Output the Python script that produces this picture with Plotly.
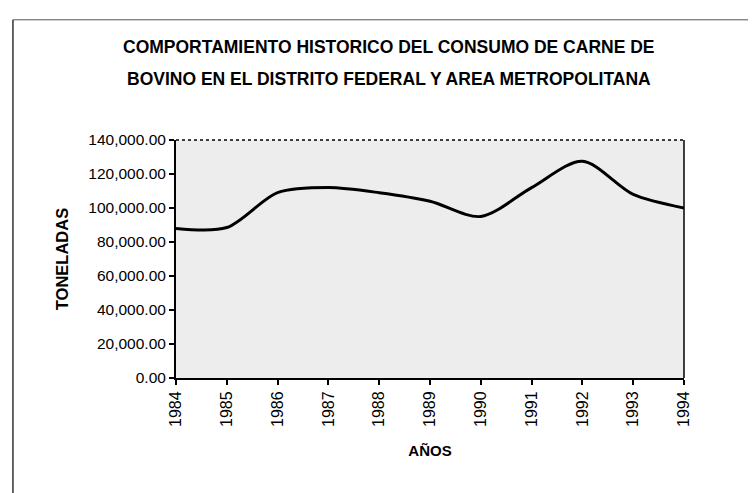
import plotly.graph_objects as go

years = [1984, 1985, 1986, 1987, 1988, 1989, 1990, 1991, 1992, 1993, 1994]
toneladas = [88000, 88500, 109000, 112000, 109000, 104000, 95000, 112000, 127500, 108000, 100000]
y_ticks = [0, 20000, 40000, 60000, 80000, 100000, 120000, 140000]

title_1 = "COMPORTAMIENTO HISTORICO DEL CONSUMO DE CARNE DE"
title_2 = "BOVINO EN EL DISTRITO FEDERAL Y AREA METROPOLITANA"
x_title = "AÑOS"
y_title = "TONELADAS"

FONT = "Liberation Sans, Arial, sans-serif"

fig = go.Figure()
fig.add_trace(go.Scatter(
    x=years, y=toneladas, mode="lines",
    line=dict(color="black", width=3, shape="spline", smoothing=0.85),
    hoverinfo="x+y", showlegend=False,
))

fig.update_layout(
    width=756, height=493,
    margin=dict(l=168, r=80, t=132, b=123),
    paper_bgcolor="white",
    plot_bgcolor="#ededed",
    font=dict(family=FONT, color="black", size=15),
    showlegend=False,
    annotations=[
        dict(text="<b>%s</b>" % title_1, xref="paper", yref="paper", x=0.42, y=1.39,
             xanchor="center", yanchor="middle", showarrow=False, font=dict(size=17.5)),
        dict(text="<b>%s</b>" % title_2, xref="paper", yref="paper", x=0.42, y=1.255,
             xanchor="center", yanchor="middle", showarrow=False, font=dict(size=17.5)),
    ],
    shapes=[
        dict(type="line", xref="paper", yref="paper", x0=0, x1=1, y0=1, y1=1,
             line=dict(color="black", width=1.5, dash="dot")),
        dict(type="line", xref="paper", yref="paper", x0=1, x1=1, y0=0, y1=1,
             line=dict(color="black", width=1.5)),
        dict(type="line", xref="paper", yref="paper", x0=-0.321, x1=-0.321, y0=-0.6, y1=1.505,
             line=dict(color="#333333", width=1.5)),
        dict(type="line", xref="paper", yref="paper", x0=-0.321, x1=1.16, y0=1.505, y1=1.505,
             line=dict(color="#555555", width=1)),
    ],
)

fig.update_xaxes(
    range=[1984, 1994], tickmode="array", tickvals=years, ticktext=[str(y) for y in years],
    tickangle=-90, ticks="outside", ticklen=5, tickwidth=1.5, tickcolor="black",
    showline=True, linecolor="black", linewidth=2, showgrid=False, zeroline=False,
    tickfont=dict(size=16),
    title=dict(text="<b>%s</b>" % x_title, font=dict(size=15), standoff=20),
)
fig.update_yaxes(
    range=[0, 140000], tickmode="array", tickvals=y_ticks, tickformat=",.2f",
    ticks="outside", ticklen=5, tickwidth=1.5, tickcolor="black",
    showline=True, linecolor="black", linewidth=2, showgrid=False, zeroline=False,
    tickfont=dict(size=15.5),
    title=dict(text="<b>%s</b>" % y_title, font=dict(size=16.5), standoff=16),
)

fig.write_html("out.html")
